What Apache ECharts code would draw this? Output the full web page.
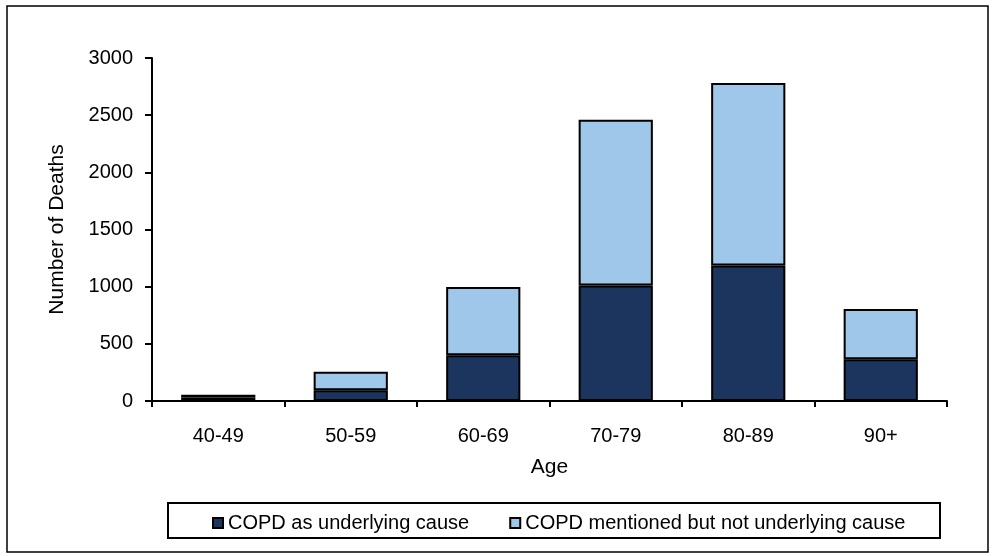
<!DOCTYPE html>
<html><head><meta charset="utf-8">
<script src="https://cdn.jsdelivr.net/npm/echarts@6/dist/echarts.min.js"></script>
<style>html,body{margin:0;padding:0;background:#fff}#c{width:993px;height:556px}</style>
</head><body><div id="c"></div>
<script>
const categories = ['40-49','50-59','60-69','70-79','80-89','90+'];
const underlying = [30, 95, 400, 1010, 1185, 365];
const mentioned = [25, 160, 597, 1450, 1597, 440];
const yTicks = [0, 500, 1000, 1500, 2000, 2500, 3000];

const chart = echarts.init(document.getElementById('c'), null, {renderer:'canvas'});
const font = 'Liberation Sans, Arial, sans-serif';
chart.setOption({
  animation: false,
  backgroundColor: '#fff',
  grid: {left: 152, right: 46, top: 58, bottom: 155, containLabel: false},
  xAxis: {
    type: 'category', data: categories, boundaryGap: true,
    name: 'Age', nameLocation: 'middle', nameGap: 56,
    nameTextStyle: {fontFamily: font, fontSize: 21, color: '#000', verticalAlign: 'top'},
    axisLine: {lineStyle: {color: '#000', width: 2}},
    axisTick: {show: true, length: 6, lineStyle: {color: '#000', width: 2}},
    axisLabel: {fontFamily: font, fontSize: 20, color: '#000', margin: 25}
  },
  yAxis: {
    type: 'value', min: yTicks[0], max: yTicks[yTicks.length-1], interval: 500,
    name: 'Number of Deaths', nameLocation: 'middle', nameGap: 84, nameRotate: 90,
    nameTextStyle: {fontFamily: font, fontSize: 21, color: '#000'},
    axisLine: {show: true, lineStyle: {color: '#000', width: 2}},
    axisTick: {show: true, length: 7, lineStyle: {color: '#000', width: 2}},
    splitLine: {show: false},
    axisLabel: {fontFamily: font, fontSize: 20, color: '#000', margin: 19, formatter: v => String(v)}
  },
  legend: {
    left: 207, top: 508, itemWidth: 10, itemHeight: 10, itemGap: 40, icon: 'rect',
    textStyle: {fontFamily: font, fontSize: 20, color: '#000'},
    data: ['COPD as underlying cause', 'COPD mentioned but not underlying cause']
  },
  graphic: [
    {type: 'rect', shape: {x: 7, y: 6, width: 981, height: 546}, style: {fill: 'none', stroke: '#000', lineWidth: 1.5}, silent: true},
    {type: 'rect', shape: {x: 168, y: 503, width: 772, height: 35}, style: {fill: 'none', stroke: '#000', lineWidth: 2}, silent: true}
  ],
  series: [
    {name: 'COPD as underlying cause', type: 'bar', stack: 'a', data: underlying, barWidth: '56%',
     itemStyle: {color: '#1c355e', borderColor: '#000', borderWidth: 2}},
    {name: 'COPD mentioned but not underlying cause', type: 'bar', stack: 'a', data: mentioned, barWidth: '56%',
     itemStyle: {color: '#9fc7e9', borderColor: '#000', borderWidth: 2}}
  ]
});
</script></body></html>
